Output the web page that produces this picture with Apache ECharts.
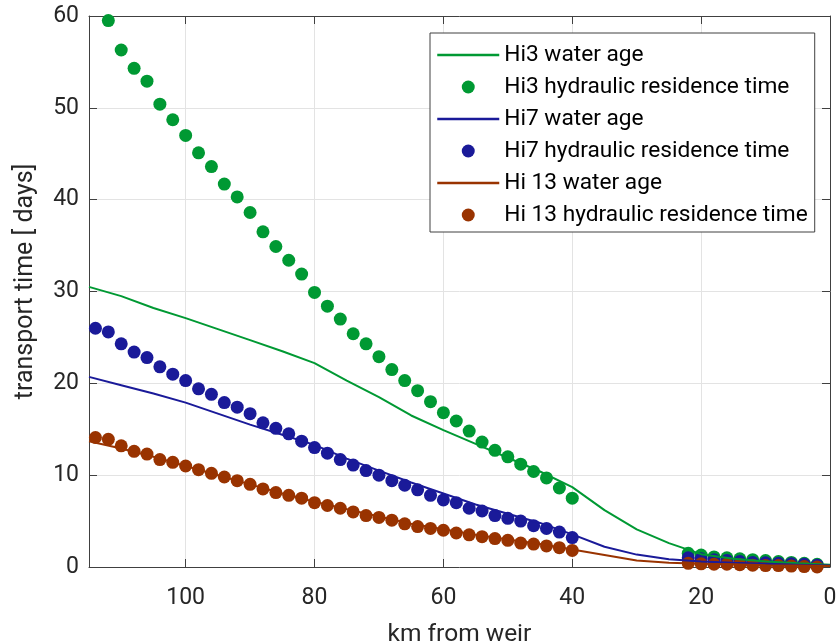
<!DOCTYPE html>
<html>
<head>
<meta charset="utf-8">
<script src="https://cdn.jsdelivr.net/npm/echarts@6/dist/echarts.min.js"></script>
<style>
  html, body { margin: 0; padding: 0; background: #fff; }
  #chart { width: 837px; height: 644px; }
</style>
</head>
<body>
<div id="chart"></div>
<script>
// Distance from the weir (km) for the continuous water-age curves
const lineKm = [115, 110, 105, 100, 95, 90, 85, 80, 75, 70, 65, 60, 55, 50, 45, 40, 35, 30, 25, 20, 15, 10, 5, 0];
const hi3Age  = [30.5, 29.5, 28.2, 27.1, 25.9, 24.7, 23.5, 22.2, 20.3, 18.5, 16.5, 14.9, 13.4, 11.9, 10.4, 8.7, 6.2, 4.1, 2.6, 1.4, 0.9, 0.6, 0.4, 0.25];
const hi7Age  = [20.7, 19.8, 18.9, 17.9, 16.7, 15.5, 14.4, 13.3, 11.8, 10.5, 9.2, 8.0, 6.8, 5.8, 4.8, 3.55, 2.2, 1.35, 0.85, 0.6, 0.45, 0.35, 0.25, 0.15];
const hi13Age = [13.7, 12.9, 12.0, 11.0, 10.0, 9.0, 8.0, 7.1, 6.3, 5.5, 4.7, 4.1, 3.5, 3.0, 2.5, 1.9, 1.3, 0.7, 0.45, 0.35, 0.3, 0.2, 0.15, 0.1];

// Stations (km) for the hydraulic residence time estimates
const dotKm = [114, 112, 110, 108, 106, 104, 102, 100, 98, 96, 94, 92, 90, 88, 86, 84, 82, 80, 78, 76,
               74, 72, 70, 68, 66, 64, 62, 60, 58, 56, 54, 52, 50, 48, 46, 44, 42, 40,
               22, 20, 18, 16, 14, 12, 10, 8, 6, 4, 2];
const hi3Hrt = [null, 59.5, 56.3, 54.3, 52.9, 50.4, 48.7, 47.0, 45.1, 43.6, 41.7, 40.3, 38.6, 36.5, 34.9, 33.4, 31.9, 29.9, 28.4, 27.0,
                25.4, 24.3, 22.9, 21.5, 20.3, 19.2, 18.0, 16.8, 15.9, 14.8, 13.6, 12.7, 12.0, 11.2, 10.4, 9.7, 8.6, 7.5,
                1.5, 1.3, 1.1, 1.0, 0.9, 0.8, 0.7, 0.6, 0.5, 0.4, 0.3];
const hi7Hrt = [26.0, 25.6, 24.3, 23.4, 22.8, 21.8, 21.0, 20.3, 19.4, 18.8, 17.9, 17.4, 16.7, 15.7, 15.1, 14.5, 13.7, 13.0, 12.4, 11.7,
                11.1, 10.5, 10.0, 9.4, 8.9, 8.4, 7.8, 7.3, 7.0, 6.4, 6.1, 5.6, 5.3, 5.0, 4.5, 4.2, 3.8, 3.2,
                1.0, 0.9, 0.8, 0.7, 0.6, 0.5, 0.45, 0.4, 0.35, 0.3, 0.2];
const hi13Hrt = [14.1, 13.9, 13.2, 12.6, 12.3, 11.7, 11.4, 11.0, 10.6, 10.2, 9.8, 9.4, 9.0, 8.5, 8.1, 7.8, 7.5, 7.0, 6.7, 6.4,
                 6.0, 5.6, 5.4, 5.1, 4.7, 4.4, 4.2, 4.0, 3.7, 3.5, 3.3, 3.1, 2.9, 2.6, 2.5, 2.3, 2.1, 1.8,
                 0.4, 0.35, 0.3, 0.3, 0.25, 0.2, 0.15, 0.15, 0.1, 0.05, 0.0];

const xTicks = [0, 20, 40, 60, 80, 100];
const yTicks = [0, 10, 20, 30, 40, 50, 60];

const GREEN = '#009933', BLUE = '#1a1a99', BROWN = '#993300';
const FONT = 'Roboto, "Noto Sans", sans-serif';
const TEXT = '#262626', AXIS = '#404040';

const pair = (xs, ys) => xs.map((x, i) => [x, ys[i]]).filter(p => p[1] !== null);

function lineSeries(name, ys, color) {
  return {
    name, type: 'line', data: pair(lineKm, ys), symbol: 'none', showSymbol: false,
    lineStyle: { color, width: 2 }, itemStyle: { color }, animation: false
  };
}
function dotSeries(name, ys, color) {
  return {
    name, type: 'scatter', data: pair(dotKm, ys), symbol: 'circle', symbolSize: 13,
    itemStyle: { color, opacity: 1 }, animation: false, clip: true
  };
}

const baseX = {
  type: 'value', min: 0, max: 115, interval: 20, inverse: true,
  axisLine: { show: true, onZero: false, lineStyle: { color: AXIS, width: 1 } },
  axisTick: { show: true, inside: true, length: 8, lineStyle: { color: AXIS } },
  splitLine: { show: false }
};
const baseY = {
  type: 'value', min: 0, max: 60, interval: 10,
  axisLine: { show: true, onZero: false, lineStyle: { color: AXIS, width: 1 } },
  axisTick: { show: true, inside: true, length: 8, lineStyle: { color: AXIS } },
  splitLine: { show: false }
};

// Legend entries for the curves show only the line sample
const lineEntry = name => ({ name, itemStyle: { opacity: 0 } });
const dotEntry = name => ({ name, icon: 'circle' });

const chart = echarts.init(document.getElementById('chart'), null, { renderer: 'canvas' });
chart.setOption({
  backgroundColor: '#ffffff',
  animation: false,
  grid: { left: 89, right: 7, top: 16, bottom: 77, containLabel: false, outerBoundsMode: 'none' },
  xAxis: [
    Object.assign({}, baseX, {
      position: 'bottom',
      name: 'km from weir', nameLocation: 'middle', nameGap: 55,
      nameTextStyle: { fontFamily: FONT, fontSize: 24.5, color: TEXT },
      splitLine: { show: true, lineStyle: { color: '#e3e3e3', width: 1 } },
      axisLabel: {
        margin: 20, fontFamily: FONT, fontSize: 23, color: TEXT,
        formatter: v => (xTicks.indexOf(v) >= 0 ? String(v) : '')
      }
    }),
    Object.assign({}, baseX, { position: 'top', axisLabel: { show: false } })
  ],
  yAxis: [
    Object.assign({}, baseY, {
      position: 'left',
      name: 'transport time [ days]', nameLocation: 'middle', nameGap: 51,
      nameTextStyle: { fontFamily: FONT, fontSize: 25, color: TEXT, padding: [0, 0, 0, 20] },
      splitLine: { show: true, lineStyle: { color: '#e3e3e3', width: 1 } },
      axisLabel: {
        margin: 10, fontFamily: FONT, fontSize: 23, color: TEXT,
        formatter: v => (yTicks.indexOf(v) >= 0 ? String(v) : '')
      }
    }),
    Object.assign({}, baseY, { position: 'right', axisLabel: { show: false } })
  ],
  legend: {
    orient: 'vertical', left: 430, top: 33,
    backgroundColor: '#ffffff', borderColor: AXIS, borderWidth: 1, borderRadius: 0,
    padding: [10, 7, 5, 6], itemGap: 8, itemWidth: 62, itemHeight: 13,
    selectedMode: false,
    lineStyle: { width: 2.5 },
    textStyle: { fontFamily: FONT, fontSize: 22.7, color: '#000', lineHeight: 24 },
    data: [
      lineEntry('Hi3 water age'),
      dotEntry('Hi3 hydraulic residence time'),
      lineEntry('Hi7 water age'),
      dotEntry('Hi7 hydraulic residence time'),
      lineEntry('Hi 13 water age'),
      dotEntry('Hi 13 hydraulic residence time')
    ]
  },
  series: [
    lineSeries('Hi3 water age', hi3Age, GREEN),
    dotSeries('Hi3 hydraulic residence time', hi3Hrt, GREEN),
    lineSeries('Hi7 water age', hi7Age, BLUE),
    dotSeries('Hi7 hydraulic residence time', hi7Hrt, BLUE),
    lineSeries('Hi 13 water age', hi13Age, BROWN),
    dotSeries('Hi 13 hydraulic residence time', hi13Hrt, BROWN)
  ]
});
</script>
</body>
</html>
